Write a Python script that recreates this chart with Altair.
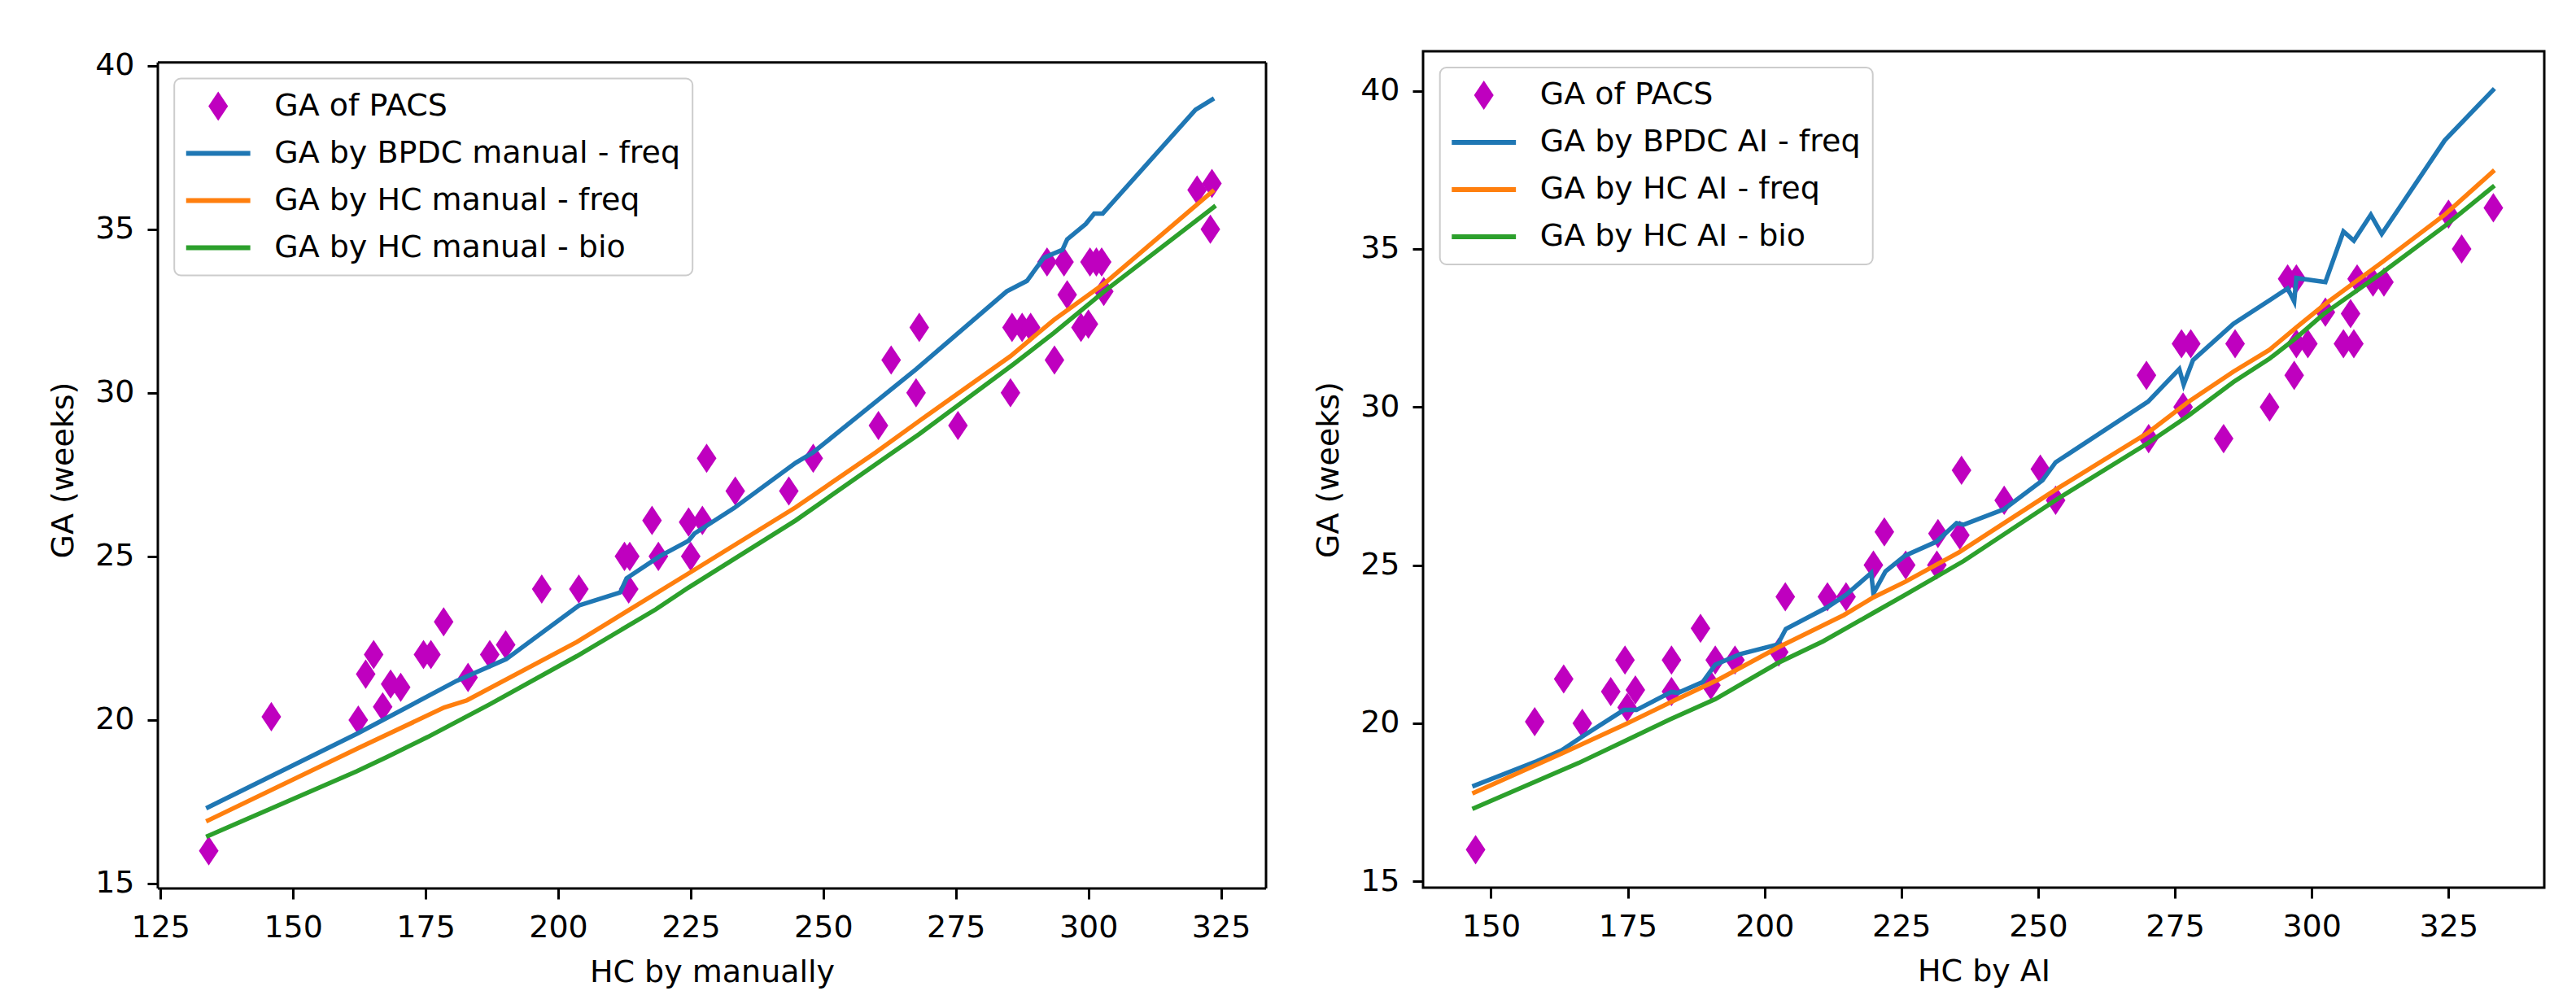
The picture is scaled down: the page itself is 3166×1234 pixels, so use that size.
import pandas as pd
import altair as alt

# ---- left panel: HC measured manually ----
left_pacs_hc = [134.1, 145.9, 162.3, 163.7, 165.2, 166.9, 168.4, 170.3, 174.6, 176.0,
                178.4, 183.0, 187.1, 190.1, 196.9, 203.9, 212.5, 213.5, 213.3, 217.7,
                218.9, 224.6, 225.0, 227.2, 228.0, 233.4, 243.5, 248.1, 260.4, 262.8,
                267.5, 268.1, 275.4, 285.3, 285.6, 287.5, 289.1, 293.6, 292.2, 295.4,
                296.0, 298.6, 300.0, 300.3, 301.5, 302.5, 302.9, 320.5, 323.3, 323.0]
left_pacs_ga = [16.0, 20.1, 20.0, 21.4, 22.0, 20.4, 21.1, 21.0, 22.0, 22.0,
                23.0, 21.3, 22.0, 22.3, 24.0, 24.0, 25.0, 25.0, 24.0, 26.1,
                25.0, 26.05, 25.0, 26.1, 28.0, 27.0, 27.0, 28.0, 29.0, 31.0,
                30.0, 32.0, 29.0, 30.0, 32.0, 32.0, 32.0, 31.0, 34.0, 34.0,
                33.0, 32.0, 32.1, 34.0, 34.0, 34.0, 33.1, 36.2, 36.4, 35.0]

left_bpdc_hc = [133.6, 162.3, 180.9, 190.2, 203.9, 211.7, 212.9, 219.1, 224.6, 225.7,
                233.2, 244.8, 248.1, 267.5, 284.6, 288.4, 291.6, 295.1, 296.0, 299.5,
                301.1, 302.7, 320.2, 323.7]
left_bpdc_ga = [17.3, 19.6, 21.2, 21.86, 23.5, 23.9, 24.33, 25.0, 25.48, 25.7,
                26.48, 27.86, 28.18, 30.72, 33.1, 33.42, 34.13, 34.37, 34.69, 35.16,
                35.48, 35.48, 38.65, 39.0]

left_hcfreq_hc = [133.6, 162.3, 178.5, 182.8, 203.5, 224.6, 244.8, 259.9, 268.1, 285.3,
                  293.5, 303.0, 323.7]
left_hcfreq_ga = [16.9, 19.14, 20.38, 20.6, 22.38, 24.48, 26.5, 28.18, 29.14, 31.12,
                  32.23, 33.34, 36.2]

left_hcbio_hc = [133.6, 162.0, 167.6, 175.4, 187.1, 203.5, 218.4, 224.6, 244.8, 262.4,
                 268.1, 285.9, 293.5, 303.0, 324.0]
left_hcbio_ga = [16.43, 18.43, 18.86, 19.48, 20.48, 21.95, 23.38, 24.05, 26.1, 28.1,
                 28.74, 30.88, 31.83, 33.1, 35.72]

# ---- right panel: HC measured by AI ----
right_pacs_hc = [147.2, 158.0, 163.3, 166.7, 171.9, 174.5, 174.9, 176.4, 183.0, 183.0,
                 188.3, 190.2, 191.0, 194.6, 202.6, 203.8, 211.5, 214.9, 219.9, 221.9,
                 225.8, 231.7, 231.5, 235.7, 236.0, 243.8, 250.4, 253.2, 269.8, 270.2,
                 276.2, 277.9, 276.5, 283.9, 286.0, 292.3, 296.8, 295.6, 297.2, 297.2,
                 299.3, 302.5, 305.8, 307.7, 307.1, 308.3, 311.2, 313.2, 325.0, 327.4,
                 333.2]
right_pacs_ga = [16.0, 20.05, 21.4, 20.0, 21.0, 22.0, 20.5, 21.05, 22.0, 21.0,
                 23.0, 21.2, 22.0, 22.0, 22.25, 24.0, 24.0, 24.0, 25.0, 26.05,
                 25.0, 26.0, 25.0, 25.95, 28.0, 27.05, 28.04, 27.05, 31.0, 29.0,
                 32.0, 32.0, 30.0, 29.0, 32.0, 30.0, 31.0, 34.05, 34.05, 32.0,
                 32.0, 33.0, 32.0, 32.0, 32.95, 34.05, 33.95, 33.95, 36.1, 35.0,
                 36.3]

right_bpdc_hc = [146.6, 158.4, 162.9, 166.7, 174.3, 176.6, 183.0, 184.2, 188.7, 191.0,
                 195.6, 202.4, 203.9, 211.5, 214.9, 219.5, 219.9, 222.1, 225.7, 231.4,
                 235.1, 236.4, 243.8, 250.8, 253.2, 270.1, 275.8, 276.6, 278.3, 285.7,
                 295.6, 296.8, 297.2, 302.5, 305.8, 307.7, 310.8, 312.8, 324.3, 333.4]
right_bpdc_ga = [18.0, 18.8, 19.14, 19.58, 20.42, 20.42, 20.99, 20.96, 21.3, 21.85,
                 22.19, 22.49, 22.98, 23.67, 24.06, 24.75, 24.1, 24.8, 25.3, 25.74,
                 26.33, 26.28, 26.77, 27.68, 28.25, 30.17, 31.2, 30.71, 31.48, 32.63,
                 33.75, 33.34, 34.08, 33.95, 35.55, 35.26, 36.08, 35.47, 38.43, 40.07]

right_hcfreq_hc = [146.6, 162.9, 174.7, 183.4, 191.8, 202.4, 214.5, 219.9, 225.7, 235.6,
                   253.6, 270.1, 277.5, 285.7, 292.3, 297.2, 302.5, 312.8, 324.3, 333.4]
right_hcfreq_ga = [17.78, 19.04, 19.98, 20.71, 21.4, 22.39, 23.42, 23.98, 24.47, 25.41,
                   27.43, 29.19, 30.17, 31.12, 31.81, 32.52, 33.26, 34.57, 36.08, 37.49]

right_hcbio_hc = [146.6, 166.0, 175.1, 182.7, 191.0, 202.4, 210.7, 219.9, 225.7, 236.4,
                  253.6, 270.1, 277.5, 285.7, 292.3, 297.2, 302.1, 312.8, 324.3, 333.4]
right_hcbio_ga = [17.29, 18.74, 19.49, 20.12, 20.76, 21.9, 22.59, 23.49, 24.06, 25.13,
                  27.1, 28.86, 29.73, 30.79, 31.53, 32.19, 32.93, 34.24, 35.72, 37.0]

left_labels = ["GA of PACS", "GA by BPDC manual - freq",
               "GA by HC manual - freq", "GA by HC manual - bio"]
right_labels = ["GA of PACS", "GA by BPDC AI - freq",
                "GA by HC AI - freq", "GA by HC AI - bio"]
colors = ["#bf00bf", "#1f77b4", "#ff7f0e", "#2ca02c"]
y_ticks = [15, 20, 25, 30, 35, 40]

# left axes box (its top sits lower than the right one's)
left_xlim = [124.5, 333.5]
left_ylim = [14.85, 40.1]

FONT = "DejaVu Sans"
FS = 38

# thin diamond marker and a flat bar used as the line handle in the legend
DIAMOND = "M0,-1.06L0.71,0L0,1.06L-0.71,0Z"
HANDLE = "M-2.32,-0.17L2.32,-0.17L2.32,0.17L-2.32,0.17Z"


def panel(pts, lines, labels, xdom, ydom, xticks, xtitle, lx, ly):
    x = alt.X("hc:Q", scale=alt.Scale(domain=xdom, nice=False, zero=False),
              axis=alt.Axis(values=xticks, format="d", title=xtitle))
    y = alt.Y("ga:Q", scale=alt.Scale(domain=ydom, nice=False, zero=False),
              axis=alt.Axis(values=y_ticks, format="d", title="GA (weeks)"))
    leg = alt.Legend(title=None, orient="none", legendX=lx, legendY=ly, padding=15,
                     fillColor="white", strokeColor="#cccccc", cornerRadius=8,
                     labelFont=FONT, labelFontSize=FS, labelColor="black",
                     labelLimit=1000, symbolSize=1156, symbolStrokeWidth=0,
                     symbolOpacity=1, rowPadding=20, symbolOffset=20, labelOffset=50)
    pts_df = pd.DataFrame({"hc": pts[0], "ga": pts[1], "series": labels[0]})
    points = alt.Chart(pts_df).mark_point(filled=True, size=1156, opacity=1, strokeWidth=0).encode(
        x=x, y=y,
        fill=alt.Fill("series:N", scale=alt.Scale(domain=labels, range=colors), legend=leg),
        shape=alt.Shape("series:N", scale=alt.Scale(domain=labels, range=[DIAMOND, HANDLE, HANDLE, HANDLE]),
                        legend=leg),
    )
    layers = [points]
    for (xs, ys), col in zip(lines, colors[1:]):
        df = pd.DataFrame({"hc": xs, "ga": ys})
        layers.append(alt.Chart(df).mark_line(color=col, strokeWidth=5.5).encode(x=x, y=y))
    return layers


left_layers = panel((left_pacs_hc, left_pacs_ga),
                    [(left_bpdc_hc, left_bpdc_ga), (left_hcfreq_hc, left_hcfreq_ga),
                     (left_hcbio_hc, left_hcbio_ga)],
                    left_labels, left_xlim, [left_ylim[0], 40.44],
                    [125, 150, 175, 200, 225, 250, 275, 300, 325],
                    "HC by manually", 20.2, 33.5)

# frame of the left axes drawn as rules through the scales
hframe = pd.DataFrame({"ga": left_ylim})
vframe = pd.DataFrame({"hc": left_xlim, "lo": [left_ylim[0]] * 2, "hi": [left_ylim[1]] * 2})
left_layers.append(alt.Chart(hframe).mark_rule(color="black", strokeWidth=3).encode(y="ga:Q"))
left_layers.append(alt.Chart(vframe).mark_rule(color="black", strokeWidth=3).encode(
    x="hc:Q", y="lo:Q", y2="hi:Q"))
left = alt.layer(*left_layers).properties(width=1362, height=1029,
                                          view=alt.ViewBackground(strokeOpacity=0))

right = alt.layer(*panel((right_pacs_hc, right_pacs_ga),
                         [(right_bpdc_hc, right_bpdc_ga), (right_hcfreq_hc, right_hcfreq_ga),
                          (right_hcbio_hc, right_hcbio_ga)],
                         right_labels, [137.6, 342.5], [14.8, 41.25],
                         [150, 175, 200, 225, 250, 275, 300, 325],
                         "HC by AI", 20.7, 20)).properties(width=1378, height=1028)

chart = (alt.hconcat(left, right, spacing=55)
         .resolve_scale(fill="independent", shape="independent")
         .resolve_legend(fill="independent", shape="independent")
         .properties(padding={"left": 51, "top": 53, "right": 5, "bottom": 5}, background="white")
         .configure_view(stroke="black", strokeWidth=3)
         .configure_axis(labelFont=FONT, labelFontSize=FS, labelColor="black",
                         titleFont=FONT, titleFontSize=FS, titleFontWeight="normal",
                         titleColor="black", tickColor="black", tickWidth=3, tickSize=13,
                         labelPadding=16, grid=False, domain=False)
         .configure_axisX(titlePadding=17)
         .configure_axisY(titlePadding=19)
         .configure_legend(strokeWidth=2))

chart.save("out.html", embed_options={"renderer": "svg", "actions": False})
